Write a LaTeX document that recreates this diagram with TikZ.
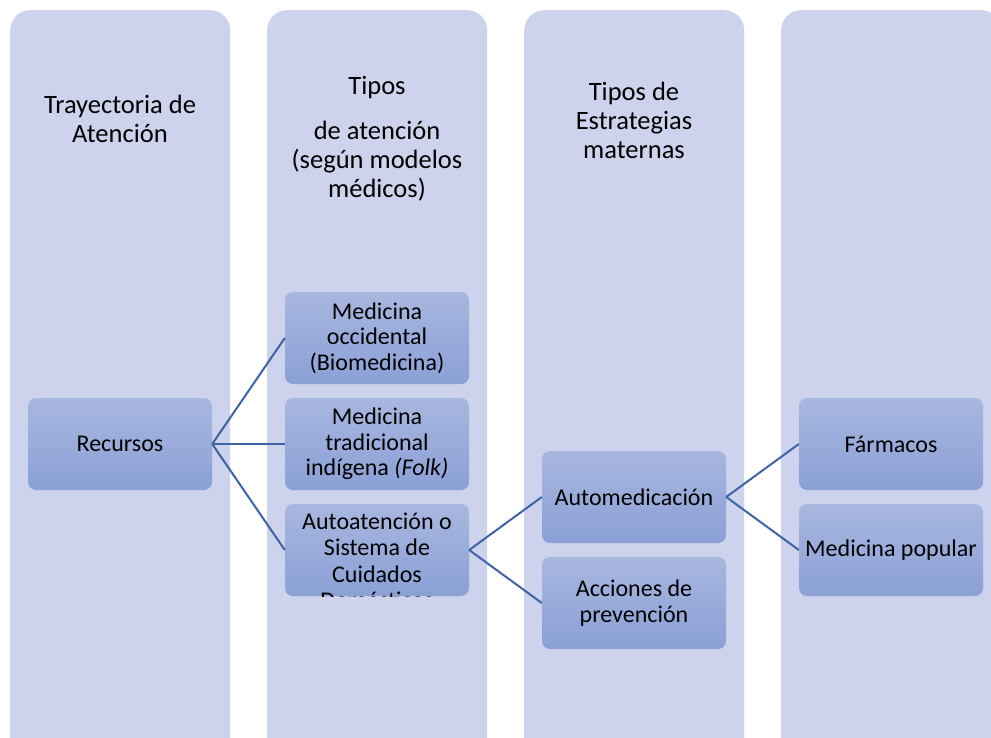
\documentclass[tikz,border=0pt]{standalone}
\usepackage{fontspec}
\setmainfont{Carlito}
\usetikzlibrary{positioning}

\definecolor{colfill}{HTML}{CDD3EC}
\definecolor{boxtop}{HTML}{A8B7DF}
\definecolor{boxbot}{HTML}{8AA0D6}
\definecolor{linkblue}{HTML}{3E63A5}

\tikzset{
    column/.style={fill=colfill, rounded corners=20pt, minimum width=220pt,
        minimum height=780pt, anchor=north west, inner sep=0pt},
    header/.style={align=center, font=\fontsize{26.5}{29}\selectfont},
    itembox/.style={top color=boxtop, bottom color=boxbot, rounded corners=8pt,
        minimum width=184pt, minimum height=92pt, inner sep=2pt, align=center,
        font=\fontsize{24}{25.5}\selectfont},
    link/.style={draw=linkblue, line width=2pt}
}

\begin{document}
\begin{tikzpicture}[x=1pt, y=-1pt]
    \useasboundingbox (0,0) rectangle (991,738);
    \clip (0,0) rectangle (991,738);
    % columnas de fondo
    \node[column] (c1) at (10,10) {};
    \node[column] (c2) at (267,10) {};
    \node[column] (c3) at (524,10) {};
    \node[column] (c4) at (781,10) {};
    % titulos
    \node[header] (h1) at (120,119) {Trayectoria de\\Atención};
    \node[header] (h2a) at (377,88) {Tipos};
    \node[header] (h2b) at (377,161) {de atención\\(según modelos\\médicos)};
    \node[header] (h3) at (634,120) {Tipos de\\Estrategias\\maternas};
    % cajas
    \node[itembox] (rec) at (120,444) {Recursos};
    \node[itembox] (occ) at (377,338) {Medicina\\occidental\\(Biomedicina)};
    \node[itembox] (trad) at (377,444) {Medicina\\tradicional\\indígena \textit{(Folk)}};
    \node[itembox, path picture={
        \node[align=center, font=\fontsize{24}{26.5}\selectfont]
            at ([yshift=-11pt]path picture bounding box.center)
            {Autoatención o\\Sistema de\\Cuidados\\Domésticos};
    }] (auto) at (377,550) {};
    \node[itembox] (amed) at (634,497) {Automedicación};
    \node[itembox] (prev) at (634,603) {Acciones de\\prevención};
    \node[itembox] (farm) at (891,444) {Fármacos};
    \node[itembox] (pop) at (891,550) {Medicina popular};
    % conectores
    \draw[link] (rec.east) -- (occ.west);
    \draw[link] (rec.east) -- (trad.west);
    \draw[link] (rec.east) -- (auto.west);
    \draw[link] (auto.east) -- (amed.west);
    \draw[link] (auto.east) -- (prev.west);
    \draw[link] (amed.east) -- (farm.west);
    \draw[link] (amed.east) -- (pop.west);
\end{tikzpicture}
\end{document}
